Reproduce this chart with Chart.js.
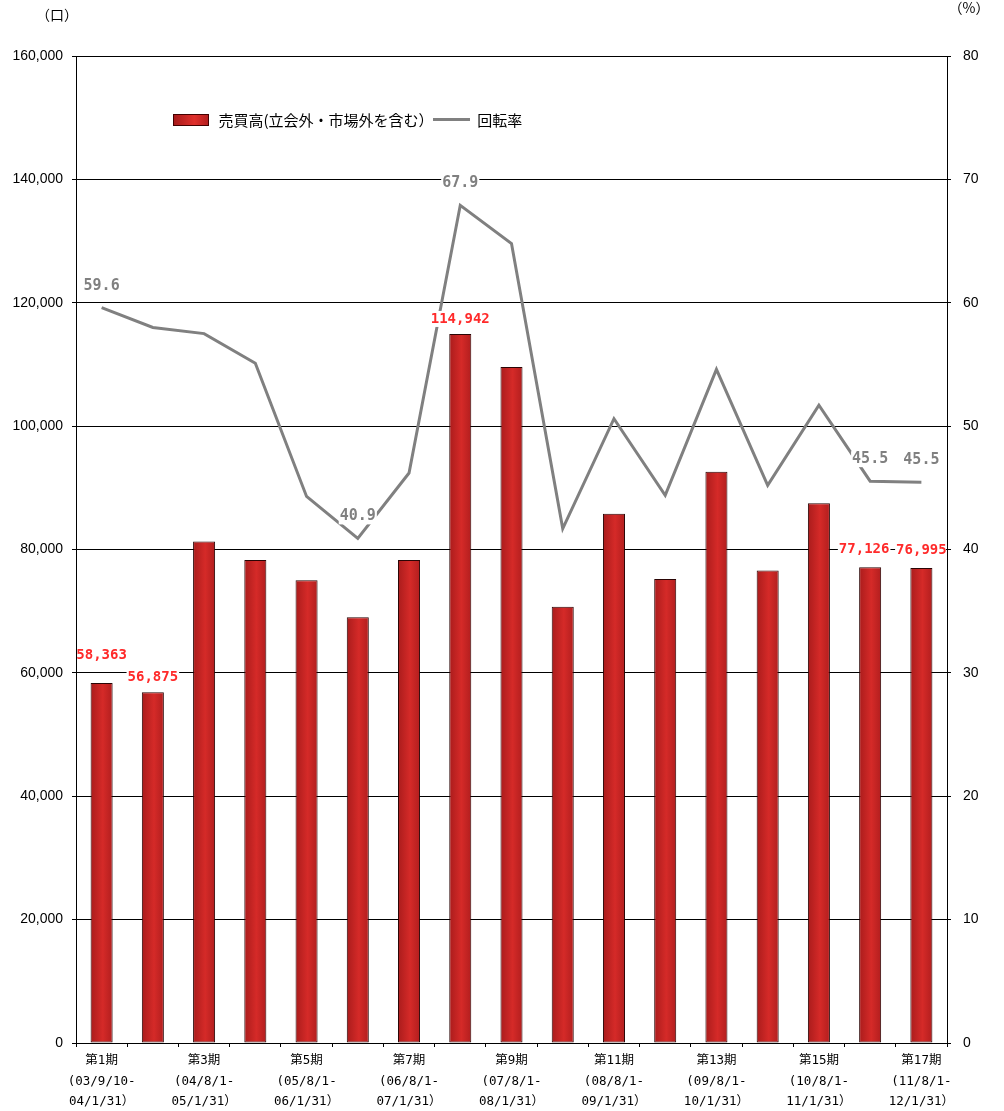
<!DOCTYPE html>
<html>
<head>
<meta charset="utf-8">
<script src="https://cdn.jsdelivr.net/npm/chart.js@4/dist/chart.umd.min.js"></script>
<style>
  body { margin: 0; background: #fff; }
  #wrap { position: relative; width: 1004px; height: 1111px; }
  .legend { position: absolute; left: 173px; top: 107px; font: 15px "Noto Sans CJK JP", sans-serif; color: #000; white-space: nowrap; }
  .legend span { display: inline-block; vertical-align: middle; }
  .swatch { width: 34px; height: 10px; border: 1px solid #400; background: linear-gradient(90deg, #a81a1a, #e0302c 60%, #b41e1e); }
  .lineKey { width: 37px; height: 3px; background: #808080; margin-left: -4px; }
</style>
</head>
<body>
<div id="wrap">
  <canvas id="chart" width="1004" height="1111"></canvas>
  <div class="legend">
    <span class="swatch"></span>
    <span style="margin-left:6px">売買高(立会外・市場外を含む）</span>
    <span class="lineKey"></span>
    <span style="margin-left:4px">回転率</span>
  </div>
</div>
<script>
var periods = ['第1期', '第2期', '第3期', '第4期', '第5期', '第6期', '第7期', '第8期', '第9期',
  '第10期', '第11期', '第12期', '第13期', '第14期', '第15期', '第16期', '第17期'];
var ranges = [['(03/9/10-', '04/1/31）'], null, ['(04/8/1-', '05/1/31）'], null, ['(05/8/1-', '06/1/31）'], null,
  ['(06/8/1-', '07/1/31）'], null, ['(07/8/1-', '08/1/31）'], null, ['(08/8/1-', '09/1/31）'], null,
  ['(09/8/1-', '10/1/31）'], null, ['(10/8/1-', '11/1/31）'], null, ['(11/8/1-', '12/1/31）']];

// 売買高 (口)
var volume = [58363, 56875, 81300, 78300, 75000, 69000, 78300, 114942, 109600,
  70700, 85800, 75200, 92600, 76600, 87500, 77126, 76995];
// 回転率 (%)
var turnover = [59.6, 58.0, 57.5, 55.1, 44.3, 40.9, 46.2, 67.9, 64.8,
  41.7, 50.6, 44.4, 54.6, 45.2, 51.7, 45.54, 45.46];

var volumeTicks = [0, 20000, 40000, 60000, 80000, 100000, 120000, 140000, 160000];
var turnoverTicks = [0, 10, 20, 30, 40, 50, 60, 70, 80];

// which points carry a value label
var volumeLabelIdx = [0, 1, 7, 15, 16];
var turnoverLabelIdx = [0, 5, 7, 15, 16];

var labels = [];
for (var i = 0; i < periods.length; i++) {
  labels.push(ranges[i] ? [periods[i]].concat(ranges[i]) : [periods[i]]);
}

var BAR_PCT = 0.43;

function barFill(ctx) {
  var chart = ctx.chart;
  var xs = chart.scales.x;
  if (!xs || !chart.chartArea || ctx.dataIndex === undefined) return '#b82222';
  var cx = xs.getPixelForValue(ctx.dataIndex);
  var w = xs.width / labels.length * BAR_PCT;
  var g = chart.ctx.createLinearGradient(cx - w / 2, 0, cx + w / 2, 0);
  g.addColorStop(0, '#aa1c1c');
  g.addColorStop(0.55, '#d52a28');
  g.addColorStop(1, '#b21e1e');
  return g;
}

var valueLabels = {
  id: 'valueLabels',
  afterDatasetsDraw: function(chart) {
    var c = chart.ctx;
    var a = chart.chartArea;
    var barMeta = chart.getDatasetMeta(1);
    var lineMeta = chart.getDatasetMeta(0);
    function put(text, x, y, color, font) {
      c.save();
      c.font = font;
      var w = c.measureText(text).width;
      var l = Math.max(x - w / 2 - 1, a.left + 1);
      var r = Math.min(x + w / 2 + 1, a.right - 1);
      c.fillStyle = '#fff';
      c.fillRect(l, y - 8, r - l, 16);
      c.fillStyle = color;
      c.textAlign = 'center';
      c.textBaseline = 'middle';
      c.fillText(text, x, y);
      c.restore();
    }
    volumeLabelIdx.forEach(function(i) {
      var el = barMeta.data[i];
      var dy = i === 0 ? 28 : (i >= 15 ? 18 : 15);
      var dx = i === 15 ? -6 : 0;
      put(volume[i].toLocaleString('en-US'), el.x + dx, el.y - dy, '#ff2a2a', 'bold 14px "DejaVu Sans Mono", monospace');
    });
    turnoverLabelIdx.forEach(function(i) {
      var el = lineMeta.data[i];
      put(turnover[i].toFixed(1), el.x, el.y - 22, '#808080', 'bold 15px "DejaVu Sans Mono", monospace');
    });
    c.save();
    c.font = '14px "Noto Sans CJK JP", sans-serif';
    c.fillStyle = '#000';
    c.textAlign = 'center';
    c.textBaseline = 'middle';
    c.fillText('（口）', 57, 15);
    c.fillText('（%）', 969, 8);
    c.restore();
  }
};

new Chart(document.getElementById('chart'), {
  data: {
    labels: labels,
    datasets: [{
      type: 'line',
      label: '回転率',
      data: turnover,
      yAxisID: 'y1',
      borderColor: '#808080',
      borderWidth: 3,
      pointRadius: 0,
      tension: 0,
      order: 0
    }, {
      type: 'bar',
      label: '売買高(立会外・市場外を含む)',
      data: volume,
      yAxisID: 'y',
      backgroundColor: barFill,
      borderColor: '#2a0505',
      borderWidth: 1,
      borderSkipped: false,
      barPercentage: BAR_PCT,
      categoryPercentage: 1,
      order: 1
    }]
  },
  options: {
    responsive: false,
    animation: false,
    layout: { padding: { top: 56, left: 0, right: 0, bottom: 0 } },
    plugins: { legend: { display: false }, tooltip: { enabled: false } },
    scales: {
      x: {
        offset: true,
        afterFit: function(s) { s.height = 68; },
        grid: { offset: true, drawOnChartArea: false, color: '#000', tickLength: 4 },
        border: { color: '#000', width: 1 },
        ticks: {
          autoSkip: false,
          maxRotation: 0,
          padding: 4,
          color: '#000',
          font: { family: '"DejaVu Sans Mono", "Noto Sans CJK JP", monospace', size: 12.5, lineHeight: 1.62 },
          callback: function(v, i) { return i % 2 === 0 ? labels[i] : ''; }
        }
      },
      y: {
        position: 'left',
        min: 0,
        max: 160000,
        afterFit: function(s) { s.width = 76; },
        afterBuildTicks: function(s) { s.ticks = volumeTicks.map(function(v) { return { value: v }; }); },
        grid: { color: '#000', lineWidth: 1, tickLength: 4 },
        border: { color: '#000', width: 1 },
        ticks: {
          color: '#000',
          padding: 9,
          font: { family: '"Liberation Sans", Arial, sans-serif', size: 14 },
          callback: function(v) { return v.toLocaleString('en-US'); }
        }
      },
      y1: {
        position: 'right',
        min: 0,
        max: 80,
        afterFit: function(s) { s.width = 57; },
        afterBuildTicks: function(s) { s.ticks = turnoverTicks.map(function(v) { return { value: v }; }); },
        grid: { drawOnChartArea: false, color: '#000', tickLength: 4 },
        border: { color: '#000', width: 1 },
        ticks: {
          color: '#000',
          padding: 12,
          font: { family: '"Liberation Sans", Arial, sans-serif', size: 14 }
        }
      }
    }
  },
  plugins: [valueLabels]
});
</script>
</body>
</html>
